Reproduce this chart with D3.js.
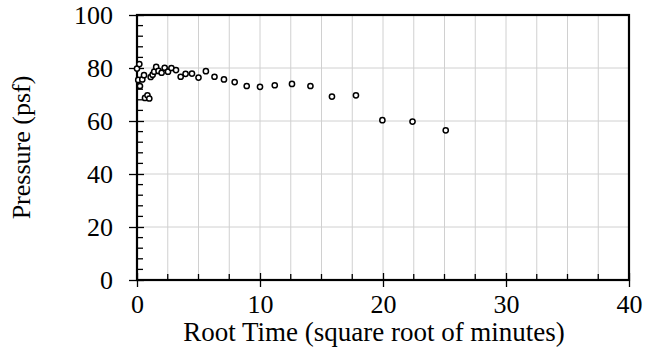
<!DOCTYPE html>
<html><head><meta charset="utf-8">
<script src="https://cdn.jsdelivr.net/npm/d3@7"></script>
<style>body{margin:0;background:#fff}svg{display:block}text{font-family:"Liberation Serif","Times New Roman",serif;fill:#000}</style>
</head><body>
<script>
const rootTime = [0,0.19,0.1,0.24,0.43,0.57,0.65,0.85,1.0,1.11,1.27,1.4,1.56,1.75,2.0,2.25,2.52,2.8,3.17,3.55,3.95,4.47,5.0,5.6,6.3,7.07,7.94,8.92,10.0,11.2,12.6,14.1,15.85,17.8,19.95,22.4,25.1];
const pressure = [79.8,81.5,75.5,73.2,75.7,77.3,68.7,69.7,68.5,76.6,77.5,78.6,80.4,78.9,78.2,80.1,78.6,80.0,79.2,76.7,77.8,77.9,76.4,78.8,76.7,75.7,74.7,73.2,72.9,73.5,74.0,73.2,69.2,69.7,60.3,59.8,56.5];
const xTicks = [0,10,20,30,40];
const yTicks = [0,20,40,60,80,100];
const xLabel = "Root Time (square root of minutes)";
const yLabel = "Pressure (psf)";

const W=655,H=364, L=137,R=629,T=15,B=280;
const svg=d3.select("body").append("svg").attr("width",W).attr("height",H);
const x=d3.scaleLinear().domain([0,40]).range([L,R]);
const y=d3.scaleLinear().domain([0,100]).range([B,T]);

// gridlines
const g=svg.append("g");
g.selectAll(".vg").data(d3.range(2.5,40,2.5)).enter().append("line")
 .attr("x1",d=>x(d)).attr("x2",d=>x(d)).attr("y1",T).attr("y2",B)
 .attr("stroke","#d0d0d0").attr("stroke-width",1);
g.selectAll(".hg").data(yTicks.filter(d=>d>0&&d<100)).enter().append("line")
 .attr("x1",L).attr("x2",R).attr("y1",d=>y(d)).attr("y2",d=>y(d))
 .attr("stroke","#d0d0d0").attr("stroke-width",1);

// minor ticks
svg.append("g").selectAll("line").data(d3.range(2.5,40,2.5).filter(d=>d%10!==0)).enter().append("line")
 .attr("x1",d=>x(d)).attr("x2",d=>x(d)).attr("y1",B).attr("y2",B-6).attr("stroke","#000").attr("stroke-width",1.3);
svg.append("g").selectAll("line").data(d3.range(4,100,4).filter(d=>d%20!==0)).enter().append("line")
 .attr("x1",L).attr("x2",L+6).attr("y1",d=>y(d)).attr("y2",d=>y(d)).attr("stroke","#000").attr("stroke-width",1.3);

// axes
const xAxis=d3.axisBottom(x).tickValues(xTicks).tickSize(7).tickPadding(8);
const xa=svg.append("g").attr("transform",`translate(0,${B})`).call(xAxis);
const yAxis=d3.axisLeft(y).tickValues(yTicks).tickSize(8).tickPadding(16);
const ya=svg.append("g").attr("transform",`translate(${L},0)`).call(yAxis);
[xa,ya].forEach(a=>{a.select(".domain").remove();a.selectAll("line").attr("stroke","#000").attr("stroke-width",1.3);
 a.selectAll("text").style("font-family",'"Liberation Serif",serif').style("font-size","26px").attr("fill","#000");});
xa.selectAll(".tick line").attr("y1",-7);
ya.selectAll(".tick line").attr("x1",7);

// frame
svg.append("rect").attr("x",L).attr("y",T).attr("width",R-L).attr("height",B-T)
 .attr("fill","none").attr("stroke","#000").attr("stroke-width",2.2);

// points
svg.append("g").selectAll("circle").data(rootTime.map((t,i)=>[t,pressure[i]])).enter().append("circle")
 .attr("cx",d=>x(d[0])).attr("cy",d=>y(d[1])).attr("r",2.6)
 .attr("fill","#fff").attr("stroke","#000").attr("stroke-width",1.5);

// titles
svg.append("text").attr("x",374).attr("y",341).attr("text-anchor","middle").style("font-size","27px").text(xLabel);
svg.append("text").attr("transform",`translate(30,${(T+B)/2}) rotate(-90)`).attr("text-anchor","middle").style("font-size","26px").text(yLabel);
</script>
</body></html>
